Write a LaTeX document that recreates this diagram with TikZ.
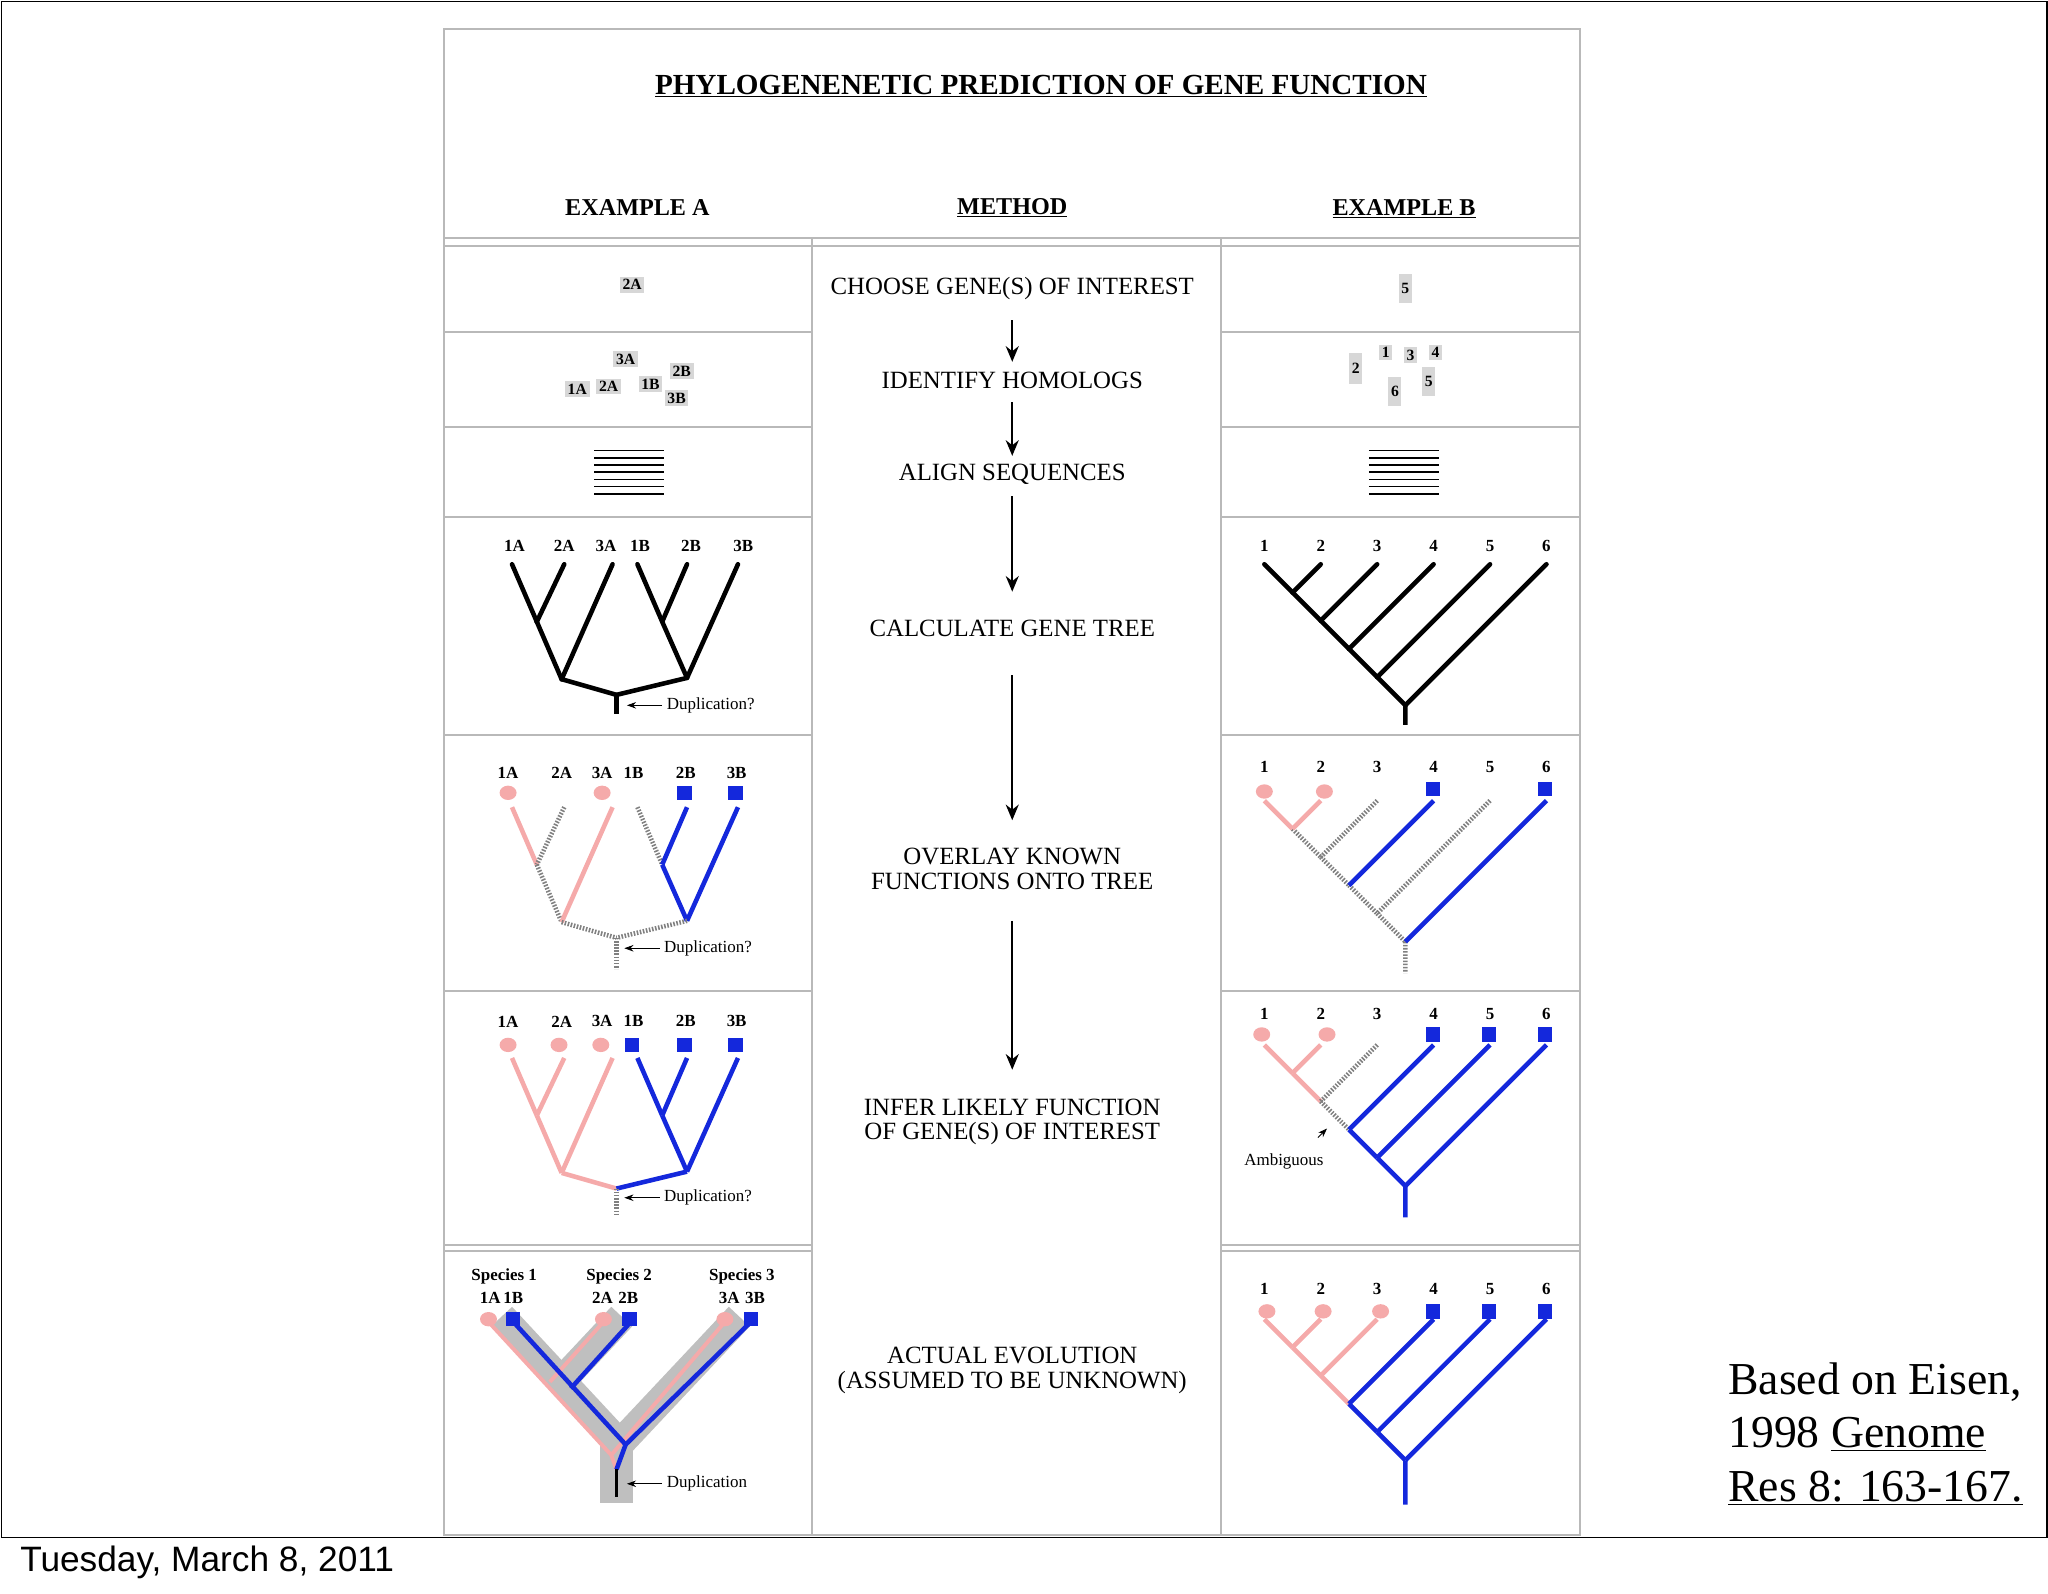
\documentclass[tikz,border=0pt]{standalone}
\usepackage{fontspec}
\setmainfont{Liberation Serif}
\setsansfont{Liberation Sans}
\usetikzlibrary{shapes.geometric,arrows.meta}
\definecolor{pink1}{RGB}{245,170,170}
\definecolor{blue1}{RGB}{20,40,220}
\definecolor{grid1}{RGB}{185,185,185}
\definecolor{box1}{RGB}{215,215,215}
\newcommand\fsz[1]{\fontsize{#1}{#1}\selectfont}
\newcommand\TreeA[2]{%
 \coordinate (A1) at (392,#1); \coordinate (A2) at (432,#1); \coordinate (A3) at (469,#1);
 \coordinate (B1) at (488,#1); \coordinate (B2) at (526,#1); \coordinate (B3) at (565,#1);
 \coordinate (jA) at (411,{#1+44}); \coordinate (nA) at (430,{#1+88});
 \coordinate (jB) at (507,{#1+44}); \coordinate (nB) at (526,{#1+87});
 \coordinate (rt) at (472,{#1+100}); \coordinate (se) at (472,#2);
 \draw[ea1] (A1)--(jA); \draw[eaj] (jA)--(nA); \draw[ea2] (A2)--(jA); \draw[ea3] (A3)--(nA);
 \draw[eb1] (B1)--(jB); \draw[ebj] (jB)--(nB); \draw[eb2] (B2)--(jB); \draw[eb3] (B3)--(nB);
 \draw[erl] (nA)--(rt); \draw[err] (nB)--(rt); \draw[est] (rt)--(se);}
\newcommand\TreeB[2]{%
 \foreach \k in {1,...,6}{\coordinate (L\k) at ({968+43.2*(\k-1)},#1);
   \coordinate (J\k) at ({968+21.6*(\k-1)},{#1+21.6*(\k-1)});}
 \draw[g3] (J2)--(J3); \draw[g4] (J3)--(J4); \draw[g5] (J4)--(J5); \draw[g6] (J5)--(J6);
 \draw[fst] (J6)--(1076,#2);
 \draw[f1] (L1)--(J2);
 \foreach \k/\s in {2/f2,3/f3,4/f4,5/f5,6/f6}{\draw[\s] (L\k)--(J\k);}}
\begin{document}
\begin{tikzpicture}[x=1pt,y=-1pt,
 grid/.style={draw=grid1,line width=1.5},
 blk/.style={line width=3.5,black,line cap=round},
 pk/.style={line width=3.5,pink1},
 bl/.style={line width=3.5,blue1},
 gd/.style={line width=3.5,gray,dash pattern=on 1.2pt off 1.2pt},
 pdot/.style={ellipse,fill=pink1,minimum width=13,minimum height=11,inner sep=0},
 bsq/.style={rectangle,fill=blue1,minimum size=11,inner sep=0},
 gbox/.style={fill=box1,font=\fsz{12}\bfseries,inner sep=2pt},
 lab/.style={font=\fsz{13}\bfseries},
 mid/.style={font=\fontsize{19}{19}\selectfont,align=center},
 marr/.style={line width=1.3,-{Stealth[length=12,width=10]}},
 sarr/.style={line width=0.6,-{Stealth[length=7,width=5]}},
 ann/.style={font=\fsz{13},anchor=west}]
\useasboundingbox (0,0) rectangle (1568,1220);
\draw[line width=1.2] (1,1) rectangle (1567,1177);
\node[anchor=west,font=\sffamily\fsz{27}] (date) at (12,1196) {Tuesday, March 8, 2011};
\node[anchor=north west,align=left,font=\fontsize{35}{41}\selectfont,inner sep=0] (ref) at (1323,1043) {Based on Eisen,\\ 1998 \underline{Genome}\\ \underline{Res 8: 163-167.}};
% table
\draw[grid] (340,22) rectangle (1210,1175);
\draw[grid] (340,182)--(1210,182) (340,188)--(1210,188);
\draw[grid] (622,182)--(622,1175) (935,182)--(935,1175);
\foreach \y in {254,327,396,563,759,953}{\draw[grid] (340,\y)--(622,\y) (935,\y)--(1210,\y);}
\draw[grid] (340,958)--(622,958) (935,958)--(1210,958);
\node[font=\fsz{22.3}\bfseries] (title) at (797,66) {\underline{PHYLOGENENETIC PREDICTION OF GENE FUNCTION}};
\node[font=\fsz{18.5}\bfseries] (ha) at (488,159) {EXAMPLE A};
\node[font=\fsz{18.5}\bfseries] (hm) at (775,159) {\underline{METHOD}};
\node[font=\fsz{18.5}\bfseries] (hb) at (1075,160) {\underline{EXAMPLE B}};
% method
\node[mid] (m1) at (775,221) {CHOOSE GENE(S) OF INTEREST};
\node[mid] (m2) at (775,291) {IDENTIFY HOMOLOGS};
\node[mid] (m3) at (775,363) {ALIGN SEQUENCES};
\node[mid] (m4) at (775,481) {CALCULATE GENE TREE};
\node[mid] (m5) at (775,665) {OVERLAY KNOWN\\FUNCTIONS ONTO TREE};
\node[mid] (m6) at (775,859) {INFER LIKELY FUNCTION\\OF GENE(S) OF INTEREST};
\node[mid] (m7) at (775,1049) {ACTUAL EVOLUTION\\(ASSUMED TO BE UNKNOWN)};
\coordinate (a1s) at (775,245); \coordinate (a1e) at (775,277);
\coordinate (a2s) at (775,308); \coordinate (a2e) at (775,349);
\coordinate (a3s) at (775,380); \coordinate (a3e) at (775,453);
\coordinate (a4s) at (775,517); \coordinate (a4e) at (775,628);
\coordinate (a5s) at (775,705); \coordinate (a5e) at (775,819);
\draw[marr] (a1s)--(a1e); \draw[marr] (a2s)--(a2e); \draw[marr] (a3s)--(a3e);
\draw[marr] (a4s)--(a4e); \draw[marr] (a5s)--(a5e);
% row 1,2 boxes
\node[gbox] (g2a) at (484,218) {2A};
\node[gbox,minimum height=22] (g5) at (1076,221) {5};
\node[gbox] (r3a) at (479,275) {3A};
\node[gbox] (r2b) at (522,284) {2B};
\node[gbox] (r1a) at (442,298) {1A};
\node[gbox] (r2a) at (466,296) {2A};
\node[gbox] (r1b) at (498,294) {1B};
\node[gbox] (r3b) at (518,305) {3B};
\node[gbox,minimum height=24] (q2) at (1038,282) {2};
\node[gbox] (q1) at (1061,270) {1};
\node[gbox] (q3) at (1080,272) {3};
\node[gbox] (q4) at (1099,270) {4};
\node[gbox,minimum height=22] (q5) at (1094,292) {5};
\node[gbox,minimum height=22] (q6) at (1068,300) {6};
% alignment
\foreach \y in {345,350.5,356,361.5,367,372.5,378}{\draw[line width=1.3] (455,\y)--(508,\y) (1048,\y)--(1102,\y);}
% labels
\foreach \x/\t in {394/1A,432/2A,464/3A,490/1B,529/2B,569/3B}{\node[lab] at (\x,418) {\t};}
\foreach \x/\t in {389/1A,430/2A,461/3A,485/1B,525/2B,564/3B}{\node[lab] at (\x,592) {\t};}
\foreach \x/\t in {389/1A,430/2A,461/3A,485/1B,525/2B,564/3B}{\node[lab] at (\x,782) {\t};}
\foreach \k in {1,...,6}{\node[lab] at ({968+43.2*(\k-1)},418) {\k};
  \node[lab] at ({968+43.2*(\k-1)},587) {\k}; \node[lab] at ({968+43.2*(\k-1)},776) {\k};
  \node[lab] at ({968+43.2*(\k-1)},987) {\k};}
% row 4 trees
\begin{scope}[ea1/.style=blk,ea2/.style=blk,eaj/.style=blk,ea3/.style=blk,eb1/.style=blk,eb2/.style=blk,ebj/.style=blk,eb3/.style=blk,erl/.style=blk,err/.style=blk,est/.style={blk,line cap=butt}]
\TreeA{432}{547}
\end{scope}
\begin{scope}[f1/.style=blk,f2/.style=blk,f3/.style=blk,f4/.style=blk,f5/.style=blk,f6/.style=blk,g3/.style=blk,g4/.style=blk,g5/.style=blk,g6/.style=blk,fst/.style={blk,line cap=butt}]
\TreeB{432}{555}
\end{scope}
\coordinate (d1s) at (507,540); \coordinate (d1e) at (480,540);
\draw[sarr] (d1s)--(d1e); \node[ann] at (507,540) {Duplication?};
% row 5 trees
\begin{scope}[ea1/.style=pk,ea2/.style=gd,eaj/.style=gd,ea3/.style=pk,eb1/.style=gd,eb2/.style=bl,ebj/.style=bl,eb3/.style=bl,erl/.style=gd,err/.style=gd,est/.style=gd]
\TreeA{618}{742}
\end{scope}
\foreach \x in {389,461}{\node[pdot] at (\x,607) {};}
\foreach \x in {524,563}{\node[bsq] at (\x,607) {};}
\coordinate (d2s) at (505,726); \coordinate (d2e) at (478,726);
\draw[sarr] (d2s)--(d2e); \node[ann] at (505,726) {Duplication?};
\begin{scope}[f1/.style=pk,f2/.style=pk,f3/.style=gd,f4/.style=bl,f5/.style=gd,f6/.style=bl,g3/.style=gd,g4/.style=gd,g5/.style=gd,g6/.style=gd,fst/.style=gd]
\TreeB{613}{745}
\end{scope}
\foreach \x in {968,1014}{\node[pdot] at (\x,606) {};}
\foreach \x in {1097,1183}{\node[bsq] at (\x,604) {};}
% row 6 trees
\begin{scope}[ea1/.style=pk,ea2/.style=pk,eaj/.style=pk,ea3/.style=pk,eb1/.style=bl,eb2/.style=bl,ebj/.style=bl,eb3/.style=bl,erl/.style=pk,err/.style=bl,est/.style=gd]
\TreeA{810}{930}
\end{scope}
\foreach \x in {389,428,460}{\node[pdot] at (\x,800) {};}
\foreach \x in {484,524,563}{\node[bsq] at (\x,800) {};}
\coordinate (d3s) at (505,917); \coordinate (d3e) at (478,917);
\draw[sarr] (d3s)--(d3e); \node[ann] at (505,917) {Duplication?};
\begin{scope}[f1/.style=pk,f2/.style=pk,f3/.style=gd,f4/.style=bl,f5/.style=bl,f6/.style=bl,g3/.style=pk,g4/.style=gd,g5/.style=bl,g6/.style=bl,fst/.style=bl]
\TreeB{800}{932}
\end{scope}
\foreach \x in {966,1016}{\node[pdot] at (\x,792) {};}
\foreach \x in {1097,1140,1183}{\node[bsq] at (\x,792) {};}
\coordinate (ams) at (1009,871); \coordinate (ame) at (1016,864);
\draw[sarr] (ams)--(ame);
\node[font=\fsz{13}] (amb) at (983,889) {Ambiguous};
% row 7 B
\begin{scope}[f1/.style=pk,f2/.style=pk,f3/.style=pk,f4/.style=bl,f5/.style=bl,f6/.style=bl,g3/.style=pk,g4/.style=pk,g5/.style=bl,g6/.style=bl,fst/.style=bl]
\TreeB{1010}{1152}
\end{scope}
\foreach \x in {970,1013,1057}{\node[pdot] at (\x,1004) {};}
\foreach \x in {1097,1140,1183}{\node[bsq] at (\x,1004) {};}
% row 7 A species tree
\begin{scope}[band/.style={line width=22,gray!50,line cap=butt,line join=miter}]
\draw[band] (384,1008)--(477,1108);
\draw[band] (476,1008)--(431,1056);
\draw[band] (566,1008)--(472,1108);
\draw[line width=26,gray!50] (472,1100)--(472,1151);
\end{scope}
\draw[pk,line width=3] (374,1012)--(468,1114)--(472,1125);
\draw[pk,line width=3] (462,1012)--(421,1058);
\draw[pk,line width=3] (555,1012)--(468,1114);
\draw[bl,line width=3.5] (393,1012)--(479,1106)--(472,1125);
\draw[bl,line width=3.5] (483,1012)--(437,1063);
\draw[bl,line width=3.5] (575,1012)--(479,1106);
\draw[line width=3] (472,1125)--(472,1146);
\foreach \x in {374,462,555}{\node[pdot] at (\x,1010) {};}
\foreach \x in {393,482,575}{\node[bsq] at (\x,1010) {};}
\node[lab] at (386,977) {Species 1}; \node[lab] at (384,994) {1A\,1B};
\node[lab] at (474,977) {Species 2}; \node[lab] at (471,994) {2A\,\,2B};
\node[lab] at (568,977) {Species 3}; \node[lab] at (568,994) {3A\,\,3B};
\coordinate (d4s) at (507,1136); \coordinate (d4e) at (480,1136);
\draw[sarr] (d4s)--(d4e); \node[ann] at (507,1136) {Duplication};
\end{tikzpicture}
\end{document}
